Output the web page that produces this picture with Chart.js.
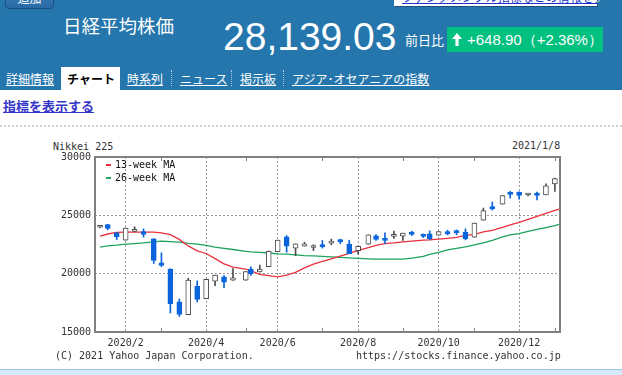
<!DOCTYPE html>
<html lang="ja">
<head>
<meta charset="utf-8">
<script src="https://cdn.jsdelivr.net/npm/chart.js@4.4.1/dist/chart.umd.min.js"></script>
<style>
  html, body { margin: 0; padding: 0; }
  body { width: 622px; height: 375px; overflow: hidden; position: relative; background: #fff;
         font-family: "Noto Sans CJK JP", sans-serif; }
  .a { position: absolute; white-space: nowrap; }
  #head { left: 0; top: 0; width: 622px; height: 90px; background: #2476ad; }
  #addBtn { left: 5px; top: -14px; width: 47px; height: 21px; border: 1px solid #1b4e7e; border-radius: 4px;
            background: linear-gradient(#3f86c2, #2a6aa6); color: #fff; font-size: 12px; line-height: 21px; text-align: center; }
  #noteBox { left: 394px; top: -12px; width: 203px; height: 18px; background: #fff; box-shadow: 1px 1px 0 #1d4f78; overflow: hidden; }
  #noteBox span { position: absolute; left: 8px; top: 2px; font-size: 12px; line-height: 14px; color: #1a33cc; text-decoration: underline; }
  #chev { left: 596px; top: -9px; font-size: 14px; line-height: 14px; color: #c8d4de; }
  #title { left: 63px; top: 16px; font-size: 18.5px; line-height: 19px; color: #fff; }
  #price { left: 223px; top: 17px; font-family: "Liberation Sans", Arial, sans-serif; font-size: 39px; line-height: 39px; color: #fff; }
  #prevLbl { left: 405px; top: 33px; font-size: 13px; line-height: 14px; color: #fff; }
  #chg { left: 447px; top: 27px; width: 156px; height: 25px; background: #02c07f; }
  #chg svg { position: absolute; left: 5px; top: 6px; }
  #chg span { position: absolute; left: 20px; top: 0; font-family: "Liberation Sans", Arial, sans-serif; font-size: 15px; line-height: 25px; color: #fff; }
  .tab { top: 71px; font-size: 12px; line-height: 16px; color: #fff; text-decoration: underline; }
  #activeTab { left: 61px; top: 67px; width: 59px; height: 23px; background: #fff; }
  #activeTab span { position: absolute; left: 6px; top: 4px; font-size: 12px; line-height: 16px; font-weight: bold; color: #000; }
  .sep { top: 70px; height: 16px; border-left: 1px dotted #a8c8e4; }
  #showInd { left: 3px; top: 98px; font-size: 13px; line-height: 16px; font-weight: bold; color: #3535c8; text-decoration: underline; }
  #dots { left: 0; top: 125px; width: 622px; border-top: 2px dotted #cfcfcf; }
  .mono { font-family: "DejaVu Sans Mono", monospace; font-size: 10px; line-height: 12px; color: #333; }
  .key { width: 5px; height: 2px; }
  #footBar { left: 0; top: 369px; width: 622px; height: 6px; background: #d6e9fa; border-top: 1px solid #9fc7ee; }
  #wrap { left: 0; top: 140px; width: 622px; height: 215px; }
</style>
</head>
<body>
<div class="a" id="head"></div>
<div class="a" id="addBtn">追加</div>
<div class="a" id="noteBox"><span>ファンダメンタル指標などの情報を表示する</span></div>
<div class="a" id="chev">›</div>
<div class="a" id="title">日経平均株価</div>
<div class="a" id="price">28,139.03</div>
<div class="a" id="prevLbl">前日比</div>
<div class="a" id="chg">
  <svg width="10" height="13" viewBox="0 0 10 13"><path d="M5 0 L10 6 L6.6 6 L6.6 13 L3.4 13 L3.4 6 L0 6 Z" fill="#fff"/></svg>
  <span>+648.90（+2.36%）</span>
</div>
<div class="a tab" style="left:6px">詳細情報</div>
<div class="a" id="activeTab"><span>チャート</span></div>
<div class="a tab" style="left:127px">時系列</div>
<div class="a sep" style="left:171px"></div>
<div class="a tab" style="left:180px">ニュース</div>
<div class="a sep" style="left:231px"></div>
<div class="a tab" style="left:240px">掲示板</div>
<div class="a sep" style="left:283px"></div>
<div class="a tab" style="left:292px">アジア･オセアニアの指数</div>
<div class="a" id="showInd">指標を表示する</div>
<div class="a" id="dots"></div>

<div class="a mono" style="left:53px;top:141px">Nikkei 225</div>
<div class="a mono" style="left:512px;top:140px">2021/1/8</div>
<div class="a" id="wrap"><canvas id="chart" width="622" height="215"></canvas></div>
<div class="a key" style="left:106px;top:164px;background:#e8313c"></div>
<div class="a mono" style="left:115px;top:159px;color:#111">13-week MA</div>
<div class="a key" style="left:106px;top:177px;background:#1ba35c"></div>
<div class="a mono" style="left:115px;top:172px;color:#111">26-week MA</div>
<div class="a mono" style="left:55px;top:350px">(C) 2021 Yahoo Japan Corporation.</div>
<div class="a mono" style="left:356px;top:350px">https://stocks.finance.yahoo.co.jp</div>
<div class="a" id="footBar"></div>

<script>
// weekly candles, dated by the first trading day of each week
const dates = ['2020-01-14', '2020-01-20', '2020-01-27', '2020-02-03', '2020-02-10', '2020-02-17', '2020-02-25',
  '2020-03-02', '2020-03-09', '2020-03-16', '2020-03-23', '2020-03-30', '2020-04-06', '2020-04-13', '2020-04-20',
  '2020-04-27', '2020-05-07', '2020-05-11', '2020-05-18', '2020-05-25', '2020-06-01', '2020-06-08', '2020-06-15',
  '2020-06-22', '2020-06-29', '2020-07-06', '2020-07-13', '2020-07-20', '2020-07-27', '2020-08-03', '2020-08-11',
  '2020-08-17', '2020-08-24', '2020-08-31', '2020-09-07', '2020-09-14', '2020-09-23', '2020-09-28', '2020-10-05',
  '2020-10-12', '2020-10-19', '2020-10-26', '2020-11-02', '2020-11-09', '2020-11-16', '2020-11-24', '2020-11-30',
  '2020-12-07', '2020-12-14', '2020-12-21', '2020-12-28', '2021-01-04'];

const opens = [23980, 24210, 23500, 22880, 23620, 23610, 22990, 20920, 20400, 17580, 16490, 18920, 17860,
  19350, 19720, 19440, 19440, 20400, 20150, 20610, 21890, 23150, 22190, 22360, 22240, 22380, 22620, 22800,
  22530, 21980, 22530, 23240, 22980, 23190, 23220, 23560, 23250, 23410, 23300, 23610, 23570, 23560, 23130,
  24590, 25760, 25960, 26880, 26990, 26740, 26910, 26760, 27700];
const highs = [24115, 24230, 23520, 23920, 24020, 23840, 23000, 21790, 20420, 17830, 19610, 19380, 19530,
  19880, 19840, 20440, 20190, 20580, 20730, 21940, 22880, 23270, 22560, 22700, 22470, 22840, 22960, 22960,
  22870, 22360, 23340, 23350, 23500, 23640, 23480, 23640, 23400, 23670, 23620, 23720, 23750, 23840, 24340,
  25620, 26140, 26710, 27050, 27010, 26870, 27000, 27710, 28200];
const lows = [23920, 23760, 22930, 22870, 23600, 23130, 20870, 20600, 16630, 16330, 16480, 17580, 17850,
  18980, 18800, 19430, 19430, 19840, 20140, 20600, 21880, 21840, 21550, 22350, 21980, 22190, 22470, 22560,
  21710, 21670, 22520, 22840, 22580, 23020, 22840, 23270, 23090, 22900, 23290, 23330, 23330, 22900, 23120,
  24580, 25450, 25950, 26480, 26390, 26660, 26330, 26750, 27050];
const closes = [24060, 23870, 23180, 23900, 23750, 23360, 21140, 20700, 17430, 16500, 19460, 17790, 19520,
  19870, 19270, 19640, 20180, 19990, 20390, 21920, 22870, 22360, 22550, 22560, 22380, 22320, 22800, 22750,
  21720, 22340, 23320, 22930, 22860, 23280, 23470, 23370, 23200, 22980, 23610, 23400, 23520, 22990, 24330,
  25400, 25540, 26700, 26800, 26700, 26800, 26700, 27520, 28140];

// moving averages, read at each candle plus the last day of the chart
const maDates = [...dates, '2021-01-08'];
const ma13 = [23220, 23400, 23540, 23560, 23560, 23560, 23560, 23500, 23350, 22940, 22380, 21960, 21730,
  21290, 20840, 20570, 20390, 20250, 19940, 19840, 19720, 19880, 20110, 20500, 20820, 21050, 21270, 21500,
  21740, 22000, 22240, 22430, 22570, 22640, 22730, 22790, 22870, 22900, 22960, 23030, 23110, 23290, 23370,
  23590, 23720, 23970, 24190, 24400, 24660, 24920, 25170, 25430, 25560];
const ma26 = [22270, 22380, 22440, 22530, 22580, 22640, 22730, 22790, 22750, 22700, 22600, 22530, 22430,
  22270, 22170, 22070, 21910, 21870, 21830, 21770, 21700, 21670, 21610, 21550, 21530, 21480, 21440, 21400,
  21350, 21310, 21270, 21240, 21240, 21240, 21240, 21330, 21480, 21660, 21830, 22040, 22170, 22300, 22470,
  22640, 22860, 23150, 23320, 23440, 23620, 23790, 23950, 24120, 24240];

const tickDates = ['2020-02-03', '2020-03-02', '2020-04-06', '2020-05-07', '2020-06-01', '2020-07-06',
  '2020-08-03', '2020-09-07', '2020-10-05', '2020-11-02', '2020-12-07', '2021-01-04'];
const tickLabels = ['2020/2', '', '2020/4', '', '2020/6', '', '2020/8', '', '2020/10', '', '2020/12', ''];
const yTicks = [15000, 20000, 25000, 30000];

const startDay = Date.UTC(2020, 0, 10);
function dayNum(s) {
  const [y, m, d] = s.split('-').map(Number);
  return (Date.UTC(y, m - 1, d) - startDay) / 86400000;
}

const UP = '#4d4d4d';
const DOWN = '#0a64dc';
const GRID = '#9a9a9a';
const isUp = closes.map((c, i) => c >= opens[i]);

Chart.defaults.font.family = "'DejaVu Sans Mono', monospace";
Chart.defaults.font.size = 10;

const frame = {
  id: 'frame',
  afterDatasetsDraw(chart) {
    const { ctx, chartArea: a, scales: { x } } = chart;
    ctx.save();
    ctx.strokeStyle = '#808080';
    ctx.lineWidth = 2;
    ctx.strokeRect(a.left, a.top, a.right - a.left, a.bottom - a.top);
    ctx.lineWidth = 1;
    ctx.beginPath();
    x.ticks.forEach((t) => {
      if (t.label) return;
      const px = Math.round(x.getPixelForValue(t.value)) + 0.5;
      ctx.moveTo(px, a.top);
      ctx.lineTo(px, a.top + 4);
      ctx.moveTo(px, a.bottom);
      ctx.lineTo(px, a.bottom - 4);
    });
    ctx.stroke();
    ctx.restore();
  }
};

new Chart(document.getElementById('chart'), {
  type: 'bar',
  data: {
    datasets: [
      {
        type: 'line',
        label: '13-week MA',
        order: 3,
        data: maDates.map((d, i) => ({ x: dayNum(d), y: ma13[i] })),
        borderColor: '#e8313c',
        borderWidth: 1.3,
        pointRadius: 0,
        tension: 0
      },
      {
        type: 'line',
        label: '26-week MA',
        order: 3,
        data: maDates.map((d, i) => ({ x: dayNum(d), y: ma26[i] })),
        borderColor: '#1ba35c',
        borderWidth: 1.3,
        pointRadius: 0,
        tension: 0
      },
      {
        label: 'wick',
        order: 2,
        grouped: false,
        data: dates.map((d, i) => ({ x: dayNum(d), y: [lows[i], highs[i]] })),
        backgroundColor: isUp.map((u) => (u ? UP : DOWN)),
        borderWidth: 0,
        barThickness: 1
      },
      {
        label: 'body',
        order: 1,
        grouped: false,
        data: dates.map((d, i) => ({ x: dayNum(d), y: [opens[i], closes[i]] })),
        backgroundColor: isUp.map((u) => (u ? '#ffffff' : DOWN)),
        borderColor: isUp.map((u) => (u ? UP : DOWN)),
        borderWidth: 1,
        borderSkipped: false,
        barThickness: 5,
        minBarLength: 2
      }
    ]
  },
  options: {
    responsive: false,
    animation: false,
    devicePixelRatio: 1,
    layout: { padding: { left: 0, right: 62, top: 17, bottom: 0 } },
    plugins: { legend: { display: false }, tooltip: { enabled: false } },
    scales: {
      x: {
        type: 'linear',
        min: 0,
        max: dayNum('2021-01-08'),
        offset: false,
        afterBuildTicks: (s) => { s.ticks = tickDates.map((d) => ({ value: dayNum(d) })); },
        afterFit: (s) => { s.height = 23; },
        grid: {
          offset: false,
          drawTicks: false,
          color: (c) => (c.tick && c.tick.label ? GRID : 'rgba(0,0,0,0)')
        },
        border: { display: false, dash: [2, 2] },
        ticks: { autoSkip: false, maxRotation: 0, padding: 5, color: '#333', callback: (v, i) => tickLabels[i] }
      },
      y: {
        min: 15000,
        max: 30000,
        afterBuildTicks: (s) => { s.ticks = yTicks.map((v) => ({ value: v })); },
        afterFit: (s) => { s.width = 95; },
        grid: {
          drawTicks: false,
          color: (c) => (c.tick && (c.tick.value === 20000 || c.tick.value === 25000) ? GRID : 'rgba(0,0,0,0)')
        },
        border: { display: false, dash: [2, 2] },
        ticks: { padding: 4, color: '#333', callback: (v) => String(v) }
      }
    }
  },
  plugins: [frame]
});
</script>
</body>
</html>
